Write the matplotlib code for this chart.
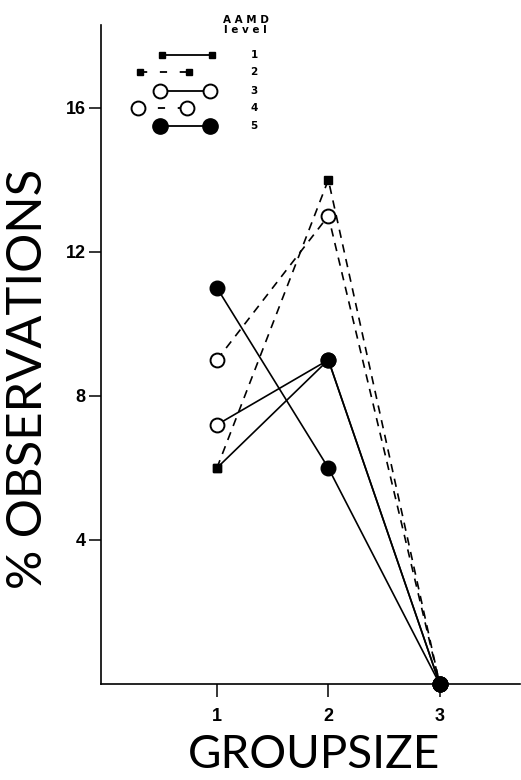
import numpy as np
from matplotlib import pyplot as plt

# group size on the x axis
groups = [1, 2, 3]

# % observations per AAMD level
level1 = [6.0, 9.0, 0.0]
level2 = [6.0, 14.0, 0.0]
level3 = [7.2, 9.0, 0.0]
level4 = [9.0, 13.0, 0.0]
level5 = [11.0, 6.0, 0.0]

# marker drawn at each point: s = small square, o = open circle, F = filled circle
marks1 = ["s", "F", "F"]
marks2 = ["s", "s", "F"]
marks3 = ["o", "F", "F"]
marks4 = ["o", "o", "F"]
marks5 = ["F", "F", "F"]

level_names = ["1", "2", "3", "4", "5"]
yticks = [4, 8, 12, 16]

series = [
    (level1, marks1, "-"),
    (level2, marks2, "--"),
    (level3, marks3, "-"),
    (level4, marks4, "--"),
    (level5, marks5, "-"),
]

mstyle = {
    "s": dict(marker="s", ms=5.5, mfc="black", mec="black"),
    "o": dict(marker="o", ms=10, mfc="white", mec="black", mew=1.4),
    "F": dict(marker="o", ms=10.5, mfc="black", mec="black"),
}

fig = plt.figure(figsize=(5.21, 7.8), dpi=100)
ax = fig.add_axes([0.194, 0.123, 0.804, 0.845])

for vals, marks, ls in series:
    line, = ax.plot(groups, vals, color="black", lw=1.2, ls=ls, zorder=2)
    if ls == "--":
        line.set_dashes((5, 4))

# markers on top of all lines
for vals, marks, ls in series:
    for g, v, m in zip(groups, vals, marks):
        ax.plot([g], [v], ls="none", zorder=3, clip_on=False, **mstyle[m])

ax.set_xlim(-0.04, 3.72)
ax.set_ylim(0, 18.3)
ax.set_xticks(groups)
ax.set_yticks(yticks)
for s in ["top", "right"]:
    ax.spines[s].set_visible(False)
for s in ["left", "bottom"]:
    ax.spines[s].set_linewidth(1.2)
ax.tick_params(direction="out", length=9, width=1.1)
ax.tick_params(axis="x", pad=8)
ax.tick_params(axis="y", pad=2)
for lab in ax.get_xticklabels() + ax.get_yticklabels():
    lab.set_fontfamily("Liberation Sans")
    lab.set_fontweight("bold")
    lab.set_fontsize(13)

fig.text(0.054, 0.514, "% OBSERVATIONS", fontfamily="Lato", fontsize=35.3,
         rotation=90, ha="center", va="center")
fig.text(0.603, 0.016, "GROUPSIZE", fontfamily="Lato", fontsize=33,
         ha="center", va="baseline")

# legend, drawn as in the original (staggered sample lines)
tr = ax.transAxes
ax.text(0.345, 1.0, "A A M D\nl e v e l", transform=tr, ha="center", va="center",
        fontsize=7.5, fontweight="bold", linespacing=0.9)
leg_marks = ["s", "s", "o", "o", "F"]
leg_ls = ["-", "--", "-", "--", "-"]
leg_x0 = [0.146, 0.092, 0.141, 0.087, 0.141]
leg_w = 0.119
leg_y = [0.955, 0.928, 0.900, 0.874, 0.846]
leg_ms = {"s": 5, "o": 10, "F": 11}
for name, m, ls, x0, y in zip(level_names, leg_marks, leg_ls, leg_x0, leg_y):
    st = dict(mstyle[m])
    st["ms"] = leg_ms[m]
    ln, = ax.plot([x0, x0 + leg_w], [y, y], color="black", lw=1.3, ls=ls,
                  transform=tr, clip_on=False, **st)
    if ls == "--":
        ln.set_dashes((4, 7))
    ax.text(0.365, y, name, transform=tr, ha="center", va="center",
            fontsize=7.5, fontweight="bold")

fig.savefig("out.png", dpi=100)
